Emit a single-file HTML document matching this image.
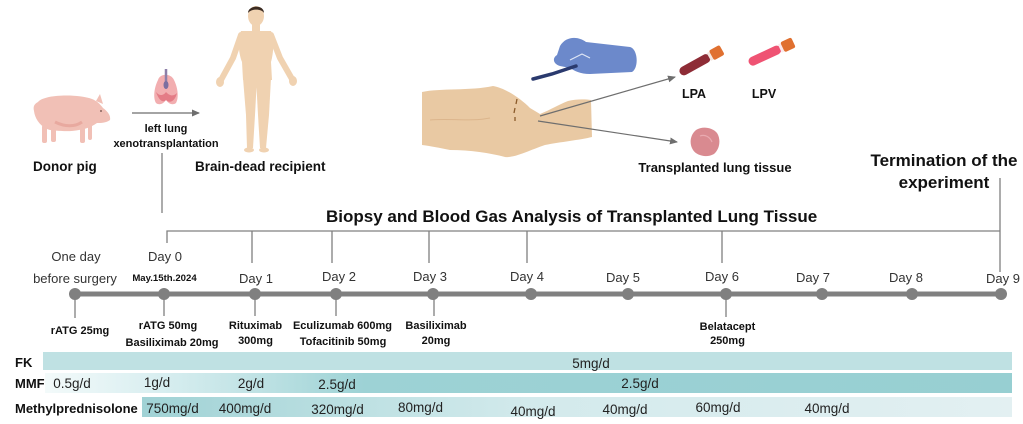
<!DOCTYPE html>
<html>
<head>
<meta charset="utf-8">
<style>
html,body{margin:0;padding:0;background:#fff;}
svg{display:block;}
text{font-family:"Liberation Sans",Arial,sans-serif;}
.b{font-weight:bold;fill:#111;}
.d{fill:#333;font-size:13px;}
.m{font-weight:bold;fill:#111;font-size:11px;}
.r{fill:#222;font-size:13.5px;}
</style>
</head>
<body>
<svg width="1023" height="424" viewBox="0 0 1023 424" xmlns="http://www.w3.org/2000/svg">
<defs>
<linearGradient id="mmf" gradientUnits="userSpaceOnUse" x1="45" y1="0" x2="1012" y2="0">
<stop offset="0" stop-color="#f3fafa"/>
<stop offset="0.12" stop-color="#d8eef0"/>
<stop offset="0.22" stop-color="#bfe2e4"/>
<stop offset="0.33" stop-color="#9dd2d5"/>
<stop offset="1" stop-color="#97cfd2"/>
</linearGradient>
<linearGradient id="mp" gradientUnits="userSpaceOnUse" x1="142" y1="0" x2="1012" y2="0">
<stop offset="0" stop-color="#a0d2d5"/>
<stop offset="0.3" stop-color="#c3e3e5"/>
<stop offset="0.45" stop-color="#d3eaec"/>
<stop offset="1" stop-color="#e3f0f2"/>
</linearGradient>
<marker id="ah" markerWidth="8" markerHeight="8" refX="7" refY="4" orient="auto" markerUnits="userSpaceOnUse">
<path d="M0,0.5 L8,4 L0,7.5 Z" fill="#6e6e6e"/>
</marker>
</defs>

<!-- Pig -->
<g fill="#f1c0b6">
<path d="M38,102 C45,94 78,94 92,99 C97,101 100,104 103,108 C107,111 111,115 110,120 C106,123 101,123 97,123 C93,126 88,128 84,129 L79,130 C70,132 58,131 50,130 C42,128 35,120 34,111 C33,107 34,104 38,102Z"/>
<rect x="42" y="125" width="5" height="18" rx="2"/>
<rect x="51" y="126" width="5" height="16" rx="2"/>
<rect x="80" y="125" width="5" height="18" rx="2"/>
<rect x="88" y="123" width="4" height="17" rx="2"/>
<path d="M96,101 L100,94 L103,104 Z"/>
</g>
<path d="M55,122 C65,127 75,127 82,122" stroke="#e8a99f" stroke-width="3" fill="none"/>
<circle cx="101" cy="111" r="0.9" fill="#6a4a44"/>

<!-- Lung -->
<path d="M158,80 C160,73 171,73 174,80 C178,88 179,98 176,103 C172,106 168,103 166,100 C164,103 160,106 156,103 C153,98 154,88 158,80Z" fill="#f2aeb0"/>
<path d="M156,92 C158,98 162,104 166,100 C170,104 175,101 177,93 C172,98 168,94 166,92 C164,95 160,97 156,92Z" fill="#e47c86"/>
<path d="M166,69 L166,88" stroke="#8d7fa8" stroke-width="2.5"/>
<ellipse cx="166" cy="85" rx="2.5" ry="4" fill="#7d6fa0"/>

<!-- arrow xenotransplant -->
<line x1="132" y1="113" x2="199" y2="113" stroke="#6e6e6e" stroke-width="1.3" marker-end="url(#ah)"/>
<text class="m" x="166" y="132" text-anchor="middle">left lung</text>
<text class="m" x="166" y="147" text-anchor="middle">xenotransplantation</text>
<line x1="162" y1="153" x2="162" y2="213" stroke="#808080" stroke-width="1.3"/>

<!-- Human -->
<g fill="#f0d2b1">
<ellipse cx="256" cy="16" rx="8" ry="10"/>
<rect x="252" y="23" width="8" height="8"/>
<path d="M241,31 L271,31 C275,40 273,55 271,62 L272,80 L243,80 L242,62 C239,55 237,40 241,31Z"/>
<path d="M243,78 L257,78 L255,115 L253,148 L247,148 L246,115Z"/>
<path d="M256,78 L271,78 L269,115 L266,148 L260,148 L258,115Z"/>
<ellipse cx="249" cy="150" rx="5" ry="2.5"/>
<ellipse cx="264" cy="150" rx="5" ry="2.5"/>
<ellipse cx="220" cy="82" rx="4" ry="5"/>
<ellipse cx="293" cy="81" rx="4" ry="5"/>
</g>
<polyline points="241,35 233,58 221,80" fill="none" stroke="#f0d2b1" stroke-width="6" stroke-linecap="round" stroke-linejoin="round"/>
<polyline points="271,35 280,58 292,79" fill="none" stroke="#f0d2b1" stroke-width="6" stroke-linecap="round" stroke-linejoin="round"/>
<path d="M248,13 C248,5 264,4 264,13 C262,9 252,8 248,13Z" fill="#3b2b22"/>

<text class="b" x="33" y="171" font-size="13.5">Donor pig</text>
<text class="b" x="195" y="171" font-size="13.5">Brain-dead recipient</text>

<!-- Surgery arm -->
<path d="M422,92 C440,88 470,91 493,86 C505,88 520,98 530,108 L540,114 C550,110 560,104 568,101 C576,99 585,99 591,100 L592,137 C580,140 560,142 545,145 C530,150 515,158 505,157 C490,153 470,150 450,150 C440,148 430,146 422,145 Z" fill="#e9c9a3"/>
<path d="M430,120 C450,118 470,122 490,118" stroke="#dcb58c" stroke-width="1" fill="none"/>
<path d="M517,99 L516,104 M515,108 L514,113 M515,117 L515,121" stroke="#8a5a2a" stroke-width="1.3"/>
<!-- Glove -->
<path d="M560,46 C566,36 578,36 586,42 L630,47 C638,49 639,68 632,72 L590,74 C580,74 575,71 570,68 L560,66 C553,64 552,58 557,55 Z" fill="#6c89cb"/>
<path d="M570,60 L582,54 L590,58" stroke="#dfe6f5" stroke-width="1.2" fill="none"/>
<path d="M533,79 L552,74 L576,66" stroke="#2a3a6e" stroke-width="3.5" fill="none" stroke-linecap="round"/>

<!-- arrows to samples -->
<line x1="540" y1="116" x2="675" y2="77" stroke="#6e6e6e" stroke-width="1.2" marker-end="url(#ah)"/>
<line x1="538" y1="121" x2="677" y2="142" stroke="#6e6e6e" stroke-width="1.2" marker-end="url(#ah)"/>

<!-- Tubes -->
<g transform="translate(680,73) rotate(-29)">
<rect x="0" y="-4.5" width="34" height="9" rx="4.5" fill="#8e2c36"/>
<rect x="33" y="-4.5" width="3" height="9" fill="#f4e6e0"/>
<rect x="36" y="-5.5" width="12" height="11" rx="2" fill="#e07030"/>
</g>
<g transform="translate(749,63) rotate(-25)">
<rect x="0" y="-4.5" width="35" height="9" rx="4.5" fill="#ef5373"/>
<rect x="34" y="-4.5" width="3" height="9" fill="#fbe9ec"/>
<rect x="37" y="-5.5" width="12" height="11" rx="2" fill="#e07030"/>
</g>
<text class="b" x="694" y="98" text-anchor="middle" font-size="12.5">LPA</text>
<text class="b" x="764" y="98" text-anchor="middle" font-size="12.5">LPV</text>

<!-- Tissue -->
<path d="M696,130 C702,126 712,127 717,133 C721,139 720,149 714,154 C707,158 697,156 693,150 C689,144 690,135 696,130Z" fill="#d98a90"/>
<path d="M700,136 C705,134 710,137 712,142" stroke="#e9aab0" stroke-width="1.2" fill="none"/>
<text class="b" x="715" y="172" text-anchor="middle" font-size="13">Transplanted lung tissue</text>

<!-- Termination -->
<text class="b" x="944" y="166" text-anchor="middle" font-size="17">Termination of the</text>
<text class="b" x="944" y="188" text-anchor="middle" font-size="17">experiment</text>
<line x1="1000" y1="178" x2="1000" y2="272" stroke="#808080" stroke-width="1.3"/>

<!-- Biopsy title & bracket -->
<text class="b" x="326" y="222" font-size="17">Biopsy and Blood Gas Analysis of Transplanted Lung Tissue</text>
<g stroke="#808080" stroke-width="1.3" fill="none">
<polyline points="167,243 167,231 1000,231"/>
<line x1="252" y1="231" x2="252" y2="263"/>
<line x1="332" y1="231" x2="332" y2="263"/>
<line x1="429" y1="231" x2="429" y2="263"/>
<line x1="527" y1="231" x2="527" y2="263"/>
<line x1="722" y1="231" x2="722" y2="263"/>
</g>

<!-- Day labels -->
<text class="d" x="76" y="261" text-anchor="middle">One day</text>
<text class="d" x="75" y="283" text-anchor="middle">before surgery</text>
<text class="d" x="165" y="261" text-anchor="middle">Day 0</text>
<text class="b" x="164.5" y="281" text-anchor="middle" font-size="9.6">May.15th.2024</text>
<text class="d" x="256" y="283" text-anchor="middle">Day 1</text>
<text class="d" x="339" y="281" text-anchor="middle">Day 2</text>
<text class="d" x="430" y="281" text-anchor="middle">Day 3</text>
<text class="d" x="527" y="281" text-anchor="middle">Day 4</text>
<text class="d" x="623" y="282" text-anchor="middle">Day 5</text>
<text class="d" x="722" y="281" text-anchor="middle">Day 6</text>
<text class="d" x="813" y="282" text-anchor="middle">Day 7</text>
<text class="d" x="906" y="282" text-anchor="middle">Day 8</text>
<text class="d" x="1003" y="283" text-anchor="middle">Day 9</text>

<!-- Timeline -->
<line x1="75" y1="294" x2="1001" y2="294" stroke="#808080" stroke-width="5"/>
<g fill="#808080">
<circle cx="75" cy="294" r="6"/>
<circle cx="164" cy="294" r="6"/>
<circle cx="255" cy="294" r="6"/>
<circle cx="336" cy="294" r="6"/>
<circle cx="433" cy="294" r="6"/>
<circle cx="531" cy="294" r="6"/>
<circle cx="628" cy="294" r="6"/>
<circle cx="726" cy="294" r="6"/>
<circle cx="822" cy="294" r="6"/>
<circle cx="912" cy="294" r="6"/>
<circle cx="1001" cy="294" r="6"/>
</g>
<g stroke="#808080" stroke-width="1.3">
<line x1="75" y1="297" x2="75" y2="318"/>
<line x1="164" y1="297" x2="164" y2="316"/>
<line x1="255" y1="297" x2="255" y2="316"/>
<line x1="336" y1="297" x2="336" y2="316"/>
<line x1="434" y1="297" x2="434" y2="316"/>
<line x1="726" y1="297" x2="726" y2="317"/>
</g>

<!-- Drug labels -->
<text class="m" x="80" y="334" text-anchor="middle">rATG 25mg</text>
<text class="m" x="168" y="329" text-anchor="middle">rATG 50mg</text>
<text class="m" x="172" y="346" text-anchor="middle">Basiliximab 20mg</text>
<text class="m" x="255.5" y="329" text-anchor="middle">Rituximab</text>
<text class="m" x="255.5" y="344" text-anchor="middle">300mg</text>
<text class="m" x="342.5" y="329" text-anchor="middle">Eculizumab 600mg</text>
<text class="m" x="343" y="345" text-anchor="middle">Tofacitinib 50mg</text>
<text class="m" x="436" y="329" text-anchor="middle">Basiliximab</text>
<text class="m" x="436" y="344" text-anchor="middle">20mg</text>
<text class="m" x="727.5" y="330" text-anchor="middle">Belatacept</text>
<text class="m" x="727.5" y="344" text-anchor="middle">250mg</text>

<!-- Bottom bars -->
<rect x="43" y="352" width="969" height="18" fill="#bfe1e3"/>
<rect x="45" y="373" width="967" height="20" fill="url(#mmf)"/>
<rect x="142" y="397" width="870" height="20" fill="url(#mp)"/>

<text class="b" x="15" y="367" font-size="13">FK</text>
<text class="r" x="591" y="368" text-anchor="middle">5mg/d</text>

<text class="b" x="15" y="388" font-size="13">MMF</text>
<text class="r" x="72" y="388" text-anchor="middle">0.5g/d</text>
<text class="r" x="157" y="387" text-anchor="middle">1g/d</text>
<text class="r" x="251" y="388" text-anchor="middle">2g/d</text>
<text class="r" x="337" y="389" text-anchor="middle">2.5g/d</text>
<text class="r" x="640" y="388" text-anchor="middle">2.5g/d</text>

<text class="b" x="15" y="413" font-size="13">Methylprednisolone</text>
<text class="r" x="172.5" y="413" text-anchor="middle">750mg/d</text>
<text class="r" x="245" y="413" text-anchor="middle">400mg/d</text>
<text class="r" x="337.5" y="414" text-anchor="middle">320mg/d</text>
<text class="r" x="420.5" y="412" text-anchor="middle">80mg/d</text>
<text class="r" x="533" y="416" text-anchor="middle">40mg/d</text>
<text class="r" x="625" y="414" text-anchor="middle">40mg/d</text>
<text class="r" x="718" y="412" text-anchor="middle">60mg/d</text>
<text class="r" x="827" y="413" text-anchor="middle">40mg/d</text>
</svg>
</body>
</html>
